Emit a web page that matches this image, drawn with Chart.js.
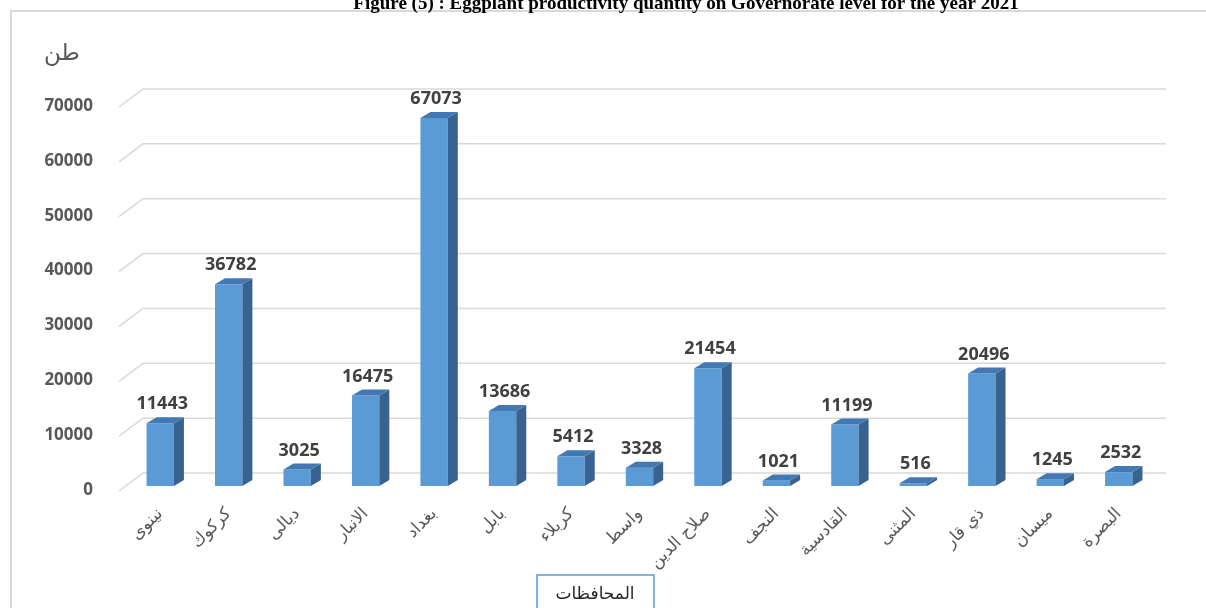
<!DOCTYPE html>
<html>
<head>
<meta charset="utf-8">
<script src="https://cdn.jsdelivr.net/npm/chart.js@4.4.1/dist/chart.umd.min.js"></script>
<style>
  html, body { margin: 0; padding: 0; background: #fff; }
  #wrap { width: 1206px; height: 608px; position: relative; }
</style>
</head>
<body>
<div id="wrap"><canvas id="barChartEggplant"></canvas></div>
<script>
// governorates and production (ton)
var governorates = ['نينوى', 'كركوك', 'ديالى', 'الانبار', 'بغداد', 'بابل', 'كربلاء', 'واسط',
    'صلاح الدين', 'النجف', 'القادسية', 'المثنى', 'ذي قار', 'ميسان', 'البصرة']
var production = [11443, 36782, 3025, 16475, 67073, 13686, 5412, 3328, 21454, 1021, 11199, 516, 20496, 1245, 2532]
var yTicks = [0, 10000, 20000, 30000, 40000, 50000, 60000, 70000]

var titleText = 'Figure (5) : Eggplant productivity quantity on Governorate level for the year 2021'
var yTitle = 'طن'
var xTitle = 'المحافظات'

var frontColor = '#5b9bd5'
var topColor = '#4379b3'
var sideColor = '#386290'
var gridColor = '#d9d9d9'

// fake 3d: floor/back wall grid lines, bar top + side faces, value labels
var bars3d = {
    id: 'bars3d',
    beforeDatasetsDraw: function (chart) {
        var ctx = chart.ctx
        var area = chart.chartArea
        var y = chart.scales.y
        ctx.save()
        ctx.strokeStyle = gridColor
        ctx.lineWidth = 1.5
        yTicks.forEach(function (v) {
            var py = y.getPixelForValue(v)
            ctx.beginPath()
            ctx.moveTo(area.left - 7, py + 5)
            ctx.lineTo(area.left + 17, py - 13)
            ctx.lineTo(area.right + 13, py - 13)
            ctx.stroke()
        })
        ctx.restore()
    },
    afterDatasetsDraw: function (chart) {
        var ctx = chart.ctx
        var meta = chart.getDatasetMeta(0)
        var dx = 10, dy = 6
        ctx.save()
        meta.data.forEach(function (bar, i) {
            var w = bar.width
            var l = bar.x - w / 2, r = bar.x + w / 2
            var top = bar.y, base = bar.base
            // side face
            ctx.fillStyle = sideColor
            ctx.beginPath()
            ctx.moveTo(r, top)
            ctx.lineTo(r + dx, top - dy)
            ctx.lineTo(r + dx, base - dy)
            ctx.lineTo(r, base)
            ctx.closePath()
            ctx.fill()
            // top face
            ctx.fillStyle = topColor
            ctx.beginPath()
            ctx.moveTo(l, top)
            ctx.lineTo(l + dx, top - dy)
            ctx.lineTo(r + dx, top - dy)
            ctx.lineTo(r, top)
            ctx.closePath()
            ctx.fill()
            // value label
            ctx.fillStyle = '#404040'
            ctx.font = 'bold 18px "Open Sans", "DejaVu Sans", sans-serif'
            ctx.textAlign = 'center'
            ctx.textBaseline = 'bottom'
            ctx.fillText(production[i], bar.x + 2, top - dy - 4)
        })
        ctx.restore()
    },
    afterDraw: function (chart) {
        var ctx = chart.ctx
        ctx.save()
        // outer frame
        ctx.strokeStyle = '#d9d9d9'
        ctx.lineWidth = 2
        ctx.strokeRect(11, 11, 1200, 610)
        // figure title (cut by top edge)
        ctx.fillStyle = '#000'
        ctx.font = 'bold 19px "Liberation Serif", serif'
        ctx.textAlign = 'center'
        ctx.textBaseline = 'alphabetic'
        ctx.fillText(titleText, 686, 9)
        // y axis unit
        ctx.fillStyle = '#595959'
        ctx.font = '23px "DejaVu Sans", sans-serif'
        ctx.textAlign = 'center'
        ctx.textBaseline = 'middle'
        ctx.fillText(yTitle, 62, 54)
        // x axis title in a box
        ctx.strokeStyle = '#5b9bd5'
        ctx.lineWidth = 1.5
        ctx.strokeRect(537, 575, 117, 45)
        ctx.fillStyle = '#262626'
        ctx.font = '17px "DejaVu Sans", sans-serif'
        ctx.fillText(xTitle, 595, 595)
        ctx.restore()
    }
}

function loadEggplantBarChart() {
    var barChartCanvas = document.getElementById('barChartEggplant').getContext('2d')
    var barChartData = {
        labels: governorates,
        datasets: [{
            data: production,
            backgroundColor: frontColor,
            borderWidth: 0,
            categoryPercentage: 0.8,
            barPercentage: 0.5
        }]
    }
    var barChartOptions = {
        responsive: true,
        maintainAspectRatio: false,
        animation: false,
        layout: { padding: { left: 0, top: 102, right: 53, bottom: 0 } },
        plugins: {
            legend: { display: false },
            tooltip: { enabled: false }
        },
        scales: {
            x: {
                grid: { display: false },
                border: { display: false },
                afterFit: function (s) { s.height = 122 },
                ticks: {
                    minRotation: 45,
                    maxRotation: 45,
                    padding: 10,
                    color: '#595959',
                    font: { size: 17, family: '"DejaVu Sans", sans-serif' }
                }
            },
            y: {
                min: 0,
                max: 70000,
                grid: { display: false },
                border: { display: false },
                afterFit: function (s) { s.width = 126 },
                afterBuildTicks: function (s) {
                    s.ticks = yTicks.map(function (v) { return { value: v } })
                },
                ticks: {
                    padding: 25,
                    labelOffset: 4,
                    color: '#595959',
                    callback: function (v) { return String(v) },
                    font: { size: 17, weight: 'bold', family: '"Open Sans", sans-serif' }
                }
            }
        }
    }
    new Chart(barChartCanvas, {
        type: 'bar',
        data: barChartData,
        options: barChartOptions,
        plugins: [bars3d]
    })
}

loadEggplantBarChart()
</script>
</body>
</html>
